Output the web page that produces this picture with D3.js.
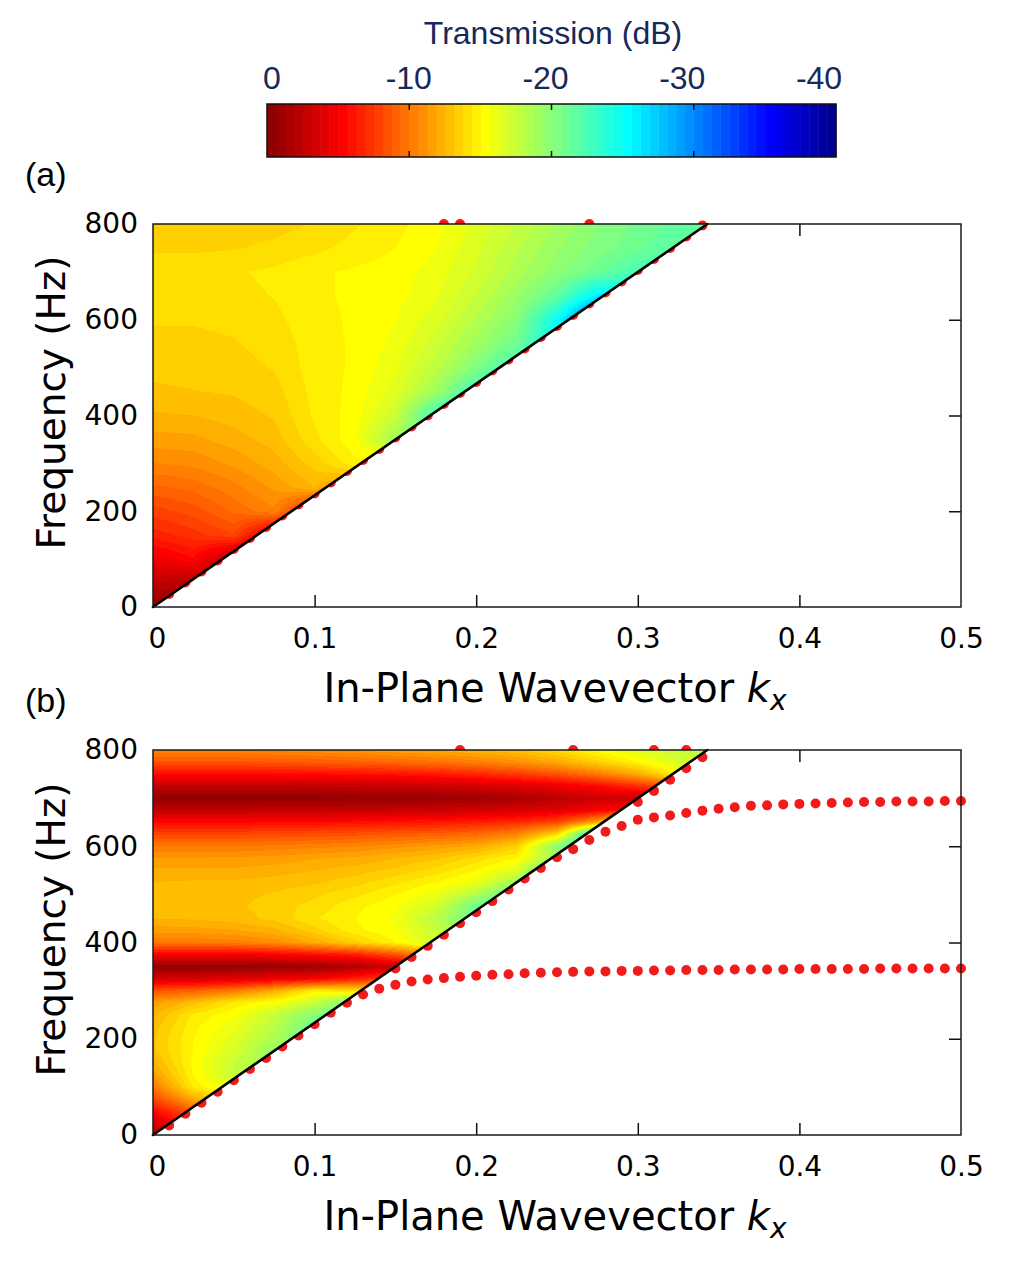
<!DOCTYPE html>
<html>
<head>
<meta charset="utf-8">
<title>Transmission maps</title>
<script src="https://d3js.org/d3.v7.min.js"></script>
<style>
  body { margin: 0; background: #fff; }
  svg text { font-family: "DejaVu Sans", Verdana, sans-serif; }
</style>
</head>
<body>
<div id="chart"></div>
<script>
// grid nodes of the transmission maps
var kxGrid = [0, 0.025, 0.05, 0.075, 0.1, 0.125, 0.15, 0.175, 0.2, 0.225, 0.25, 0.275, 0.3, 0.325, 0.35];
var freqA = [0, 50, 100, 150, 200, 250, 300, 350, 400, 450, 500, 550, 600, 650, 700, 750, 800];
var freqB = [0, 25, 50, 75, 100, 125, 150, 175, 200, 225, 250, 275, 300, 325, 350, 375, 400,
             425, 450, 475, 500, 525, 550, 575, 600, 625, 650, 675, 700, 725, 750, 775, 800];

// transmission (dB), one row per frequency
var transA = [
  [-0.5, -1, -1.5, -2, -2, -2, -2, -2, -2, -2, -2, -2, -2, -2, -2],
  [-2.5, -2, -2, -2, -2, -2, -2, -2, -2, -2, -2, -2, -2, -2, -2],
  [-4.5, -5.5, -2, -2, -2, -2, -2, -2, -2, -2, -2, -2, -2, -2, -2],
  [-6.5, -7.2, -8, -3.5, -3.5, -3.5, -3.5, -3.5, -3.5, -3.5, -3.5, -3.5, -3.5, -3.5, -3.5],
  [-7.8, -8.4, -9.5, -10.5, -6, -6, -6, -6, -6, -6, -6, -6, -6, -6, -6],
  [-9.2, -9.6, -10.4, -11.4, -12.5, -11, -11, -11, -11, -11, -11, -11, -11, -11, -11],
  [-10.6, -10.8, -11.4, -12.2, -13.4, -14.8, -14, -14, -14, -14, -14, -14, -14, -14, -14],
  [-11.6, -11.7, -12.2, -12.8, -14.2, -15.5, -19, -21, -21, -21, -21, -21, -21, -21, -21],
  [-12.4, -12.5, -12.8, -13.2, -14.5, -15.3, -17.3, -23, -23, -23, -23, -23, -23, -23, -23],
  [-13, -13.1, -13.2, -13.5, -14.6, -15.2, -16.5, -19, -23, -23, -23, -23, -23, -23, -23],
  [-13.3, -13.4, -13.5, -13.8, -14.7, -15.1, -16.1, -17.8, -20.3, -23, -23, -23, -23, -23, -23],
  [-13.6, -13.6, -13.7, -14, -14.7, -15.1, -15.8, -17.2, -19, -21, -25, -25, -25, -25, -25],
  [-13.8, -13.8, -13.9, -14.2, -14.8, -15.1, -15.6, -16.6, -18.2, -20, -25, -33, -30, -30, -30],
  [-14.2, -14.2, -14.2, -14.4, -14.9, -15.1, -15.4, -16.1, -17.5, -19.2, -21.5, -26, -26, -26, -26],
  [-14.3, -14.3, -14.3, -14.5, -14.9, -15.1, -15.3, -15.9, -17, -18.4, -19.8, -21, -22.5, -23, -23],
  [-13.6, -13.6, -13.7, -13.9, -14.2, -14.6, -15, -15.6, -16.7, -18, -19.3, -20.3, -21, -22, -22],
  [-13.3, -13.3, -13.4, -13.5, -13.8, -14.3, -14.8, -15.4, -16.4, -17.5, -18.8, -20, -20.8, -21.5, -22]
];

// transmission (dB)
var transB = [
  [-2, -6, -8, -10, -10, -10, -10, -10, -10, -10, -10, -10, -10, -10, -10],
  [-3.5, -7, -9, -11, -11, -11, -11, -11, -11, -11, -11, -11, -11, -11, -11],
  [-5.5, -9, -11, -13, -13, -13, -13, -13, -13, -13, -13, -13, -13, -13, -13],
  [-8, -12, -14, -15, -15, -15, -15, -15, -15, -15, -15, -15, -15, -15, -15],
  [-10, -14.5, -16.5, -17, -17, -17, -17, -17, -17, -17, -17, -17, -17, -17, -17],
  [-11.5, -15, -17.5, -18, -18, -18, -18, -18, -18, -18, -18, -18, -18, -18, -18],
  [-12.3, -15.2, -17.5, -19, -19, -19, -19, -19, -19, -19, -19, -19, -19, -19, -19],
  [-13, -15, -16.8, -19.5, -20, -20, -20, -20, -20, -20, -20, -20, -20, -20, -20],
  [-13, -15, -16.5, -18.5, -21, -21, -21, -21, -21, -21, -21, -21, -21, -21, -21],
  [-12.8, -14.8, -16, -18, -21, -22, -22, -22, -22, -22, -22, -22, -22, -22, -22],
  [-12.3, -14.5, -15.5, -17.5, -20, -22, -22, -22, -22, -22, -22, -22, -22, -22, -22],
  [-11.5, -12.8, -14.5, -15.5, -17.5, -21, -21, -21, -21, -21, -21, -21, -21, -21, -21],
  [-8.5, -9, -10, -12, -14.8, -14, -14, -14, -14, -14, -14, -14, -14, -14, -14],
  [-3.5, -3.5, -4, -4.5, -5, -6.5, -8, -8, -8, -8, -8, -8, -8, -8, -8],
  [-0.5, -0.5, -0.5, -0.7, -1, -1.8, -3, -4, -4, -4, -4, -4, -4, -4, -4],
  [-5, -5, -5, -5.2, -5.8, -6.5, -8.5, -11, -11, -11, -11, -11, -11, -11, -11],
  [-10, -10, -10.3, -10.8, -12, -13.5, -15, -17, -19, -19, -19, -19, -19, -19, -19],
  [-11.5, -11.6, -11.8, -12.3, -13.5, -14.8, -15.5, -17.5, -20, -20, -20, -20, -20, -20, -20],
  [-12.5, -12.6, -12.8, -13.3, -14.3, -15, -15.8, -18, -21, -22, -22, -22, -22, -22, -22],
  [-12.8, -12.8, -13, -13.4, -14, -14.8, -15.5, -17, -21, -24, -24, -24, -24, -24, -24],
  [-12.7, -12.8, -12.9, -13.2, -13.6, -14.2, -15, -16, -18.3, -22, -22, -22, -22, -22, -22],
  [-12.5, -12.6, -12.6, -12.8, -13, -13.5, -14.2, -15, -16, -19, -22, -22, -22, -22, -22],
  [-12, -12, -12, -12.2, -12.5, -12.8, -13.3, -14, -15, -16.5, -24, -24, -24, -24, -24],
  [-11.3, -11.3, -11.4, -11.5, -11.8, -12, -12.5, -13, -14, -15, -19, -22, -22, -22, -22],
  [-10, -10, -10, -10.2, -10.4, -10.6, -11, -11.5, -12, -13.5, -20, -26, -26, -26, -26],
  [-8, -8, -8, -8.2, -8.3, -8.5, -8.8, -9, -9.5, -10.5, -14, -26, -26, -26, -26],
  [-5.5, -5.5, -5.5, -5.6, -5.7, -5.8, -6, -6.2, -6.5, -7, -8, -12, -18, -18, -18],
  [-2.5, -2.5, -2.5, -2.6, -2.6, -2.7, -2.8, -3, -3.2, -3.5, -4, -5, -6, -6, -6],
  [-0.5, -0.5, -0.5, -0.5, -0.5, -0.6, -0.7, -0.8, -1, -1.5, -2.2, -3, -3, -4, -4],
  [-2.5, -2.5, -2.5, -2.5, -2.6, -2.7, -2.8, -3, -3.3, -3.8, -4.5, -5.5, -7, -9, -9],
  [-5.5, -5.5, -5.5, -5.6, -5.7, -5.8, -6, -6.3, -6.8, -7.5, -8.5, -10, -12, -15, -15],
  [-8.5, -8.5, -8.6, -8.7, -8.9, -9.1, -9.4, -9.8, -10.3, -11, -12, -13.5, -15, -17, -18],
  [-10.5, -10.5, -10.6, -10.8, -11, -11.3, -11.7, -12, -12.5, -13, -14, -15.3, -16.5, -17.5, -18]
];

// light line (black) end points
var lightLineKx = [0, 0.343];
var lightLineF = [0, 800];

// red dots, panel (a)
var dotsAKx = [0.01, 0.02, 0.03, 0.04, 0.05, 0.06, 0.07, 0.08, 0.09, 0.10, 0.11, 0.12, 0.13, 0.14, 0.15, 0.16, 0.17,
               0.18, 0.19, 0.20, 0.21, 0.22, 0.23, 0.24, 0.25, 0.26, 0.27, 0.28, 0.29, 0.30, 0.31, 0.32, 0.33, 0.34];
var dotsAF = [27, 51, 74, 97, 121, 144, 167, 191, 214, 237, 260, 284, 307, 330, 354, 377, 400,
              424, 447, 470, 494, 517, 540, 564, 587, 610, 634, 657, 680, 704, 727, 750, 774, 797];
var topDotsAKx = [0.18, 0.19, 0.27];
var topDotsAF = [800, 800, 800];

// red dots, panel (b): three branches
var branch1Kx = [0.01, 0.02, 0.03, 0.04, 0.05, 0.06, 0.07, 0.08, 0.09, 0.10, 0.11, 0.12, 0.13, 0.14, 0.15, 0.16, 0.17,
                 0.18, 0.19, 0.20, 0.21, 0.22, 0.23, 0.24, 0.25, 0.26, 0.27, 0.28, 0.29, 0.30, 0.31, 0.32, 0.33, 0.34,
                 0.35, 0.36, 0.37, 0.38, 0.39, 0.40, 0.41, 0.42, 0.43, 0.44, 0.45, 0.46, 0.47, 0.48, 0.49, 0.50];
var branch1F = [20, 44, 67, 90, 114, 137, 160, 184, 207, 230, 254, 275, 292, 304, 312, 319, 323,
                326, 329, 331, 333, 334, 336, 337, 338, 339, 340, 340, 341, 341, 342, 342, 343, 343,
                343, 344, 344, 344, 344, 345, 345, 345, 345, 345, 346, 346, 346, 346, 346, 346];
var branch2Kx = [0.15, 0.16, 0.17, 0.18, 0.19, 0.20, 0.21, 0.22, 0.23, 0.24, 0.25, 0.26, 0.27, 0.28, 0.29, 0.30,
                 0.31, 0.32, 0.33, 0.34, 0.35, 0.36, 0.37, 0.38, 0.39, 0.40, 0.41, 0.42, 0.43, 0.44, 0.45, 0.46,
                 0.47, 0.48, 0.49, 0.50];
var branch2F = [346, 370, 393, 416, 440, 463, 486, 510, 533, 555, 577, 594, 613, 630, 642, 655,
                660, 664, 669, 674, 678, 681, 684, 685, 687, 688, 689, 690, 691, 692, 692, 693,
                693, 693, 694, 694];
var branch3Kx = [0.30, 0.31, 0.32, 0.33, 0.34];
var branch3F = [692, 715, 738, 762, 785];
var topDotsBKx = [0.19, 0.26, 0.31, 0.33];
var topDotsBF = [800, 800, 800, 800];

var xTicks = [0, 0.1, 0.2, 0.3, 0.4, 0.5];
var yTicks = [0, 200, 400, 600, 800];
var cbTicks = [0, -10, -20, -30, -40];

var width = 1018, height = 1272;
var svg = d3.select("#chart").append("svg").attr("width", width).attr("height", height);

// jet colormap, 64 levels, dark red = 0 dB, dark blue = -40 dB
var jetRamp = d3.scaleLinear().domain([0, 7, 23, 39, 55, 63])
    .range(["#00008f", "#0000ff", "#00ffff", "#ffff00", "#ff0000", "#8f0000"]);
var jet64 = d3.range(64).map(function(i) { return jetRamp(i); });
var color = d3.scaleQuantize().domain([-40, 0]).range(jet64);
var rgbOf = new Map(jet64.map(function(c) { return [c, d3.rgb(c)]; }));

// ---- colorbar ----
var navy = "#16295b";
var cbX = d3.scaleLinear().domain([0, -40]).range([267, 836]);
var cbLabelX = d3.scaleLinear().domain([0, -40]).range([272, 819]);
var cb = svg.append("g");
cb.selectAll("rect.band").data(jet64).join("rect")
    .attr("class", "band")
    .attr("x", function(c) { return cbX(color.invertExtent(c)[1]); })
    .attr("width", function(c) { return cbX(color.invertExtent(c)[0]) - cbX(color.invertExtent(c)[1]) + 0.5; })
    .attr("y", 104).attr("height", 53)
    .attr("fill", function(c) { return c; });
cb.append("rect").attr("x", 267).attr("y", 104).attr("width", 569).attr("height", 53)
    .attr("fill", "none").attr("stroke", "#111").attr("stroke-width", 1.5);
cb.selectAll("line.tk").data([-10, -20, -30]).join("line")
    .attr("class", "tk")
    .attr("x1", cbX).attr("x2", cbX).attr("y1", 104).attr("y2", 110)
    .attr("stroke", "#111").attr("stroke-width", 1.5);
cb.selectAll("line.bk").data([-10, -20, -30]).join("line")
    .attr("class", "bk")
    .attr("x1", cbX).attr("x2", cbX).attr("y1", 151).attr("y2", 157)
    .attr("stroke", "#111").attr("stroke-width", 1.5);
cb.selectAll("text.cbl").data(cbTicks).join("text")
    .attr("class", "cbl")
    .attr("x", cbLabelX).attr("y", 89)
    .attr("text-anchor", "middle")
    .style("font-family", "'Liberation Sans', Arial, sans-serif")
    .style("font-size", "32px").attr("fill", navy)
    .text(function(d) { return d; });
cb.append("text").attr("x", 553).attr("y", 44).attr("text-anchor", "middle")
    .style("font-family", "'Liberation Sans', Arial, sans-serif")
    .style("font-size", "32px").attr("fill", navy)
    .text("Transmission (dB)");

// bilinear shading between grid nodes
function sampleGrid(grid, freqs, k, f) {
  var dk = kxGrid[1] - kxGrid[0], df = freqs[1] - freqs[0];
  var gi = Math.min(Math.max(k / dk, 0), kxGrid.length - 1.0001);
  var gj = Math.min(Math.max(f / df, 0), freqs.length - 1.0001);
  var i0 = Math.floor(gi), j0 = Math.floor(gj), tx = gi - i0, ty = gj - j0;
  var a = grid[j0][i0], b = grid[j0][i0 + 1], c = grid[j0 + 1][i0], d = grid[j0 + 1][i0 + 1];
  return (a * (1 - tx) + b * tx) * (1 - ty) + (c * (1 - tx) + d * tx) * ty;
}

function heatImage(x, y, freqs, grid) {
  var x0 = x.range()[0], x1 = x.range()[1], yTop = y.range()[1], yBot = y.range()[0];
  var w = Math.round(x1 - x0), h = Math.round(yBot - yTop);
  var canvas = document.createElement("canvas");
  canvas.width = w; canvas.height = h;
  var ctx = canvas.getContext("2d");
  var img = ctx.createImageData(w, h);
  var slope = lightLineF[1] / lightLineKx[1];
  for (var j = 0; j < h; j++) {
    var f = y.invert(yTop + j + 0.5);
    for (var i = 0; i < w; i++) {
      var k = x.invert(x0 + i + 0.5);
      if (k * slope > f) continue;
      var c = rgbOf.get(color(sampleGrid(grid, freqs, k, f)));
      var p = (j * w + i) * 4;
      img.data[p] = c.r; img.data[p + 1] = c.g; img.data[p + 2] = c.b; img.data[p + 3] = 255;
    }
  }
  ctx.putImageData(img, 0, 0);
  return { href: canvas.toDataURL(), x: x0, y: yTop, w: w, h: h };
}

function drawPanel(top, bottom, freqs, grid, dotSets, tag, tagY) {
  var x = d3.scaleLinear().domain([0, 0.5]).range([153, 961]);
  var y = d3.scaleLinear().domain([0, 800]).range([bottom, top]);
  var g = svg.append("g");

  // inward ticks on all four sides (under the map, like the original)
  var bx = g.append("g").attr("transform", "translate(0," + bottom + ")")
      .call(d3.axisBottom(x).tickValues(xTicks).tickSize(-12).tickPadding(21)
        .tickFormat(function(d) { return d === 0 ? "0" : d3.format(".1f")(d); }));
  g.append("g").attr("transform", "translate(0," + top + ")")
      .call(d3.axisTop(x).tickValues([0.1, 0.2, 0.3, 0.4]).tickSize(-12).tickFormat(""));
  var ly = g.append("g").attr("transform", "translate(153,0)")
      .call(d3.axisLeft(y).tickValues(yTicks).tickSize(-12).tickPadding(15));
  g.append("g").attr("transform", "translate(961,0)")
      .call(d3.axisRight(y).tickValues([200, 400, 600]).tickSize(-12).tickFormat(""));
  g.selectAll(".domain").remove();
  g.selectAll(".tick line").attr("stroke", "#111").attr("stroke-width", 1.5);
  [bx, ly].forEach(function(a) {
    a.attr("font-family", null).attr("font-size", null);
    a.selectAll("text").style("font-size", "28px").attr("fill", "#000");
  });
  ly.selectAll(".tick").filter(function(d) { return d === 0 || d === 800; }).select("line").remove();
  bx.selectAll(".tick").filter(function(d) { return d === 0 || d === 0.5; }).select("line").remove();
  bx.selectAll(".tick").filter(function(d) { return d === 0; }).select("text").attr("x", 4);

  // dispersion dots, under the map
  dotSets.forEach(function(s) {
    g.append("g").selectAll("circle").data(d3.zip(s[0], s[1])).join("circle")
      .attr("cx", function(d) { return x(d[0]); })
      .attr("cy", function(d) { return y(d[1]); })
      .attr("r", 5)
      .attr("fill", "#f21b1b");
  });

  var im = heatImage(x, y, freqs, grid);
  g.append("image").attr("href", im.href)
      .attr("x", im.x).attr("y", im.y).attr("width", im.w).attr("height", im.h);

  g.append("line")
      .attr("x1", x(lightLineKx[0])).attr("y1", y(lightLineF[0]))
      .attr("x2", x(lightLineKx[1])).attr("y2", y(lightLineF[1]))
      .attr("stroke", "#000").attr("stroke-width", 2.6).attr("stroke-linecap", "round");

  g.append("rect").attr("x", 153).attr("y", top).attr("width", 808).attr("height", bottom - top)
      .attr("fill", "none").attr("stroke", "#1a1a1a").attr("stroke-width", 1.5);

  // axis titles
  var xt = g.append("text").attr("x", 555).attr("y", bottom + 95).attr("text-anchor", "middle")
      .style("font-size", "40px").attr("fill", "#000");
  xt.append("tspan").text("In-Plane Wavevector ");
  xt.append("tspan").style("font-style", "italic").text("k");
  xt.append("tspan").style("font-style", "italic").style("font-size", "28px").attr("dy", 8).text("x");

  g.append("text")
      .attr("transform", "translate(65," + ((top + bottom) / 2 - 13) + ") rotate(-90)")
      .attr("text-anchor", "middle").style("font-size", "39px").attr("fill", "#000")
      .text("Frequency (Hz)");

  g.append("text").attr("x", 25).attr("y", tagY)
      .style("font-family", "'Liberation Sans', Arial, sans-serif")
      .style("font-size", "34px").attr("fill", "#000").text(tag);
}

drawPanel(224, 607, freqA, transA, [[dotsAKx, dotsAF], [topDotsAKx, topDotsAF]], "(a)", 186);
drawPanel(750, 1135, freqB, transB,
  [[branch1Kx, branch1F], [branch2Kx, branch2F], [branch3Kx, branch3F], [topDotsBKx, topDotsBF]], "(b)", 712);
</script>
</body>
</html>
